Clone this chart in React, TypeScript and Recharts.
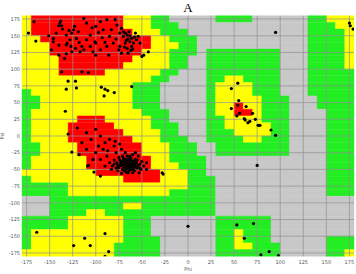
import React from 'react';
import { ScatterChart, Scatter, XAxis, YAxis, ReferenceArea, ReferenceLine } from 'recharts';

const phiTicks = [-175, -150, -125, -100, -75, -50, -25, 0, 25, 50, 75, 100, 125, 150, 175];
const psiTicks = [-175, -150, -125, -100, -75, -50, -25, 0, 25, 50, 75, 100, 125, 150, 175];

// 10-degree cells, rows from psi 180 (top) down to -180, run-length encoded from phi -180
// R = core, Y = allowed, G = generous, W = disallowed
const regionRows = [
  'Y1 R10 Y3 G2 W5 G4 W6 G2 Y3',
  'Y1 R10 Y3 G3 W14 G3 Y2',
  'Y1 R11 Y3 G3 W13 G4 Y1',
  'Y2 R12 Y2 G3 W12 G4 Y1',
  'Y3 R11 Y3 G2 W12 G4 Y1',
  'Y3 R10 Y3 G3 W1 G8 W3 G4 Y1',
  'Y4 R8 Y4 G2 W2 G8 W3 G4 Y1',
  'Y4 R7 Y5 G2 W2 G8 W3 G4 Y1',
  'Y4 R5 Y6 G2 W3 G8 W3 G5',
  'Y14 G2 W4 G2 Y2 G4 W3 G5',
  'Y12 G3 W5 G1 Y4 G3 W3 G5',
  'G1 Y11 G3 W5 G1 Y4 G3 W3 G5',
  'G2 Y10 G3 W5 G1 Y5 G3 W3 G4',
  'G2 Y10 G3 W5 G1 Y2 R1 Y2 G3 W3 G4',
  'G1 Y12 G3 W4 G1 Y2 R2 Y1 G3 W4 G3',
  'G1 Y5 R3 Y5 G2 W4 G2 Y4 G3 W4 G3',
  'G1 Y4 R5 Y4 G3 W3 G2 Y5 G2 W4 G3',
  'G1 Y4 R6 Y4 G2 W3 G3 Y4 G2 W4 G3',
  'G1 Y4 R7 Y3 G3 W2 G4 Y2 G3 W4 G3',
  'G2 Y4 R7 Y3 G3 W2 G8 W4 G3',
  'G2 Y4 R7 Y3 G3 W2 G8 W4 G3',
  'G1 Y6 R7 Y2 G4 W13 G3',
  'G1 Y6 R7 Y3 G3 W13 G3',
  'Y8 R7 Y3 G2 W13 G3',
  'G1 Y10 R4 Y3 G3 W12 G3',
  'G5 Y13 G3 W12 G3',
  'G5 Y11 G5 W12 G3',
  'W3 G18 W15',
  'W3 G8 Y2 G8 W15',
  'W3 G4 Y2 G12 W15',
  'G5 Y6 G3 W7 G6 W9',
  'G5 Y6 G3 W7 G6 W9',
  'G1 Y10 G3 W7 G2 Y1 G3 W9',
  'G1 Y10 G4 W6 G2 Y1 G3 W6 G3',
  'G1 Y9 G5 W6 G2 Y2 G3 W5 G3',
  'Y10 G5 W6 G7 W5 G2 Y1',
];

const regionColors: Record<string, string> = {
  R: '#ff0000',
  Y: '#ffff00',
  G: '#22ee22',
  W: '#c8c8c8',
};

const betaPoints: [number, number][] = [
  [-173, 154], [-165, 142], [-167, 171], [-139, 169], [-140, 165], [-146, 141], [-148, 129],
  [-132, 151], [-128, 144], [-127, 134], [-124, 159], [-121, 146], [-115, 134], [-110, 169],
  [-106, 151], [-101, 141], [-95, 129], [-92, 159], [-88, 174], [-85, 149], [-77, 166],
  [-74, 154], [-70, 149], [-68, 139], [-66, 131], [-65, 124], [-61, 146], [-59, 139],
  [-52, 139], [-50, 119], [-48, 121], [-43, 126], [-138, 172], [-137, 165], [-136, 160],
  [-151, 150], [-146, 146], [-131, 139], [-126, 154], [-117, 126], [-132, 123], [-140, 121],
  [-134, 116], [-110, 144], [-100, 164], [-100, 121], [-95, 171], [-93, 147], [-83, 159],
  [-81, 139], [-79, 174], [-72, 161], [-70, 156], [-68, 154], [-66, 151], [-64, 156],
  [-63, 141], [-61, 134], [-57, 154], [-56, 144], [-54, 149], [-74, 134], [-75, 129],
  [-72, 124], [-113, 129], [-123, 164], [-119, 156], [-106, 134], [-103, 126], [-88, 134],
  [-86, 121], [-113, 176], [-100, 139], [-126, 126], [-132, 136], [-140, 136], [-143, 154],
  [-65, 145], [-63, 150], [-67, 143], [-62, 128], [-60, 130], [-58, 148], [-69, 133],
  [-118, 140], [-122, 131], [-129, 158], [-97, 155], [-104, 162], [-90, 140], [-78, 145],
];

const bridgePoints: [number, number][] = [
  [-137, 96], [-115, 96], [-108, 95], [-130, 82], [-122, 82], [-132, 70], [-121, 72],
  [-94, 73], [-90, 70], [-87, 68], [-91, 60], [-80, 65], [-61, 74], [-133, 37], [-130, 3],
];

const alphaPoints: [number, number][] = [
  [-120, 12], [-110, 5], [-100, 10], [-95, 0], [-105, -5], [-115, -10], [-90, -10], [-85, -5],
  [-92, -20], [-100, -25], [-110, -20], [-118, -28], [-88, -30], [-80, -15], [-78, -25],
  [-75, -32], [-72, -38], [-70, -42], [-68, -35], [-66, -45], [-64, -40], [-62, -38],
  [-60, -44], [-58, -40], [-63, -30], [-60, -28], [-57, -35], [-55, -48], [-52, -42],
  [-50, -38], [-67, -50], [-65, -55], [-62, -50], [-70, -48], [-74, -44], [-77, -40],
  [-80, -36], [-82, -45], [-76, -52], [-72, -56], [-58, -52], [-54, -30], [-48, -45],
  [-45, -50], [-68, -25], [-72, -20], [-85, -40], [-90, -45], [-95, -35], [-65, -35],
  [-61, -42], [-63, -47], [-59, -37], [-66, -39], [-69, -43], [-71, -30], [-56, -45],
  [-64, -33], [-75, -47], [-60, -55], [-53, -55], [-87, -22], [-97, -15], [-103, -35],
  [-79, -8], [-74, -12], [-83, -50], [-57, -25], [-51, -50], [-45, -40], [-126, -24],
  [-109, -45], [-108, -44], [-102, -54], [-95, -60], [-28, -55], [-27, -57],
  [-66, -42], [-64, -44], [-62, -41], [-60, -39], [-67, -37], [-69, -39], [-63, -36],
  [-61, -46], [-58, -43], [-65, -48], [-68, -46], [-70, -36], [-72, -44], [-62, -33],
  [-59, -48], [-56, -40], [-64, -52], [-71, -50], [-73, -40], [-66, -30], [-60, -50],
  [-55, -36], [-67, -54], [-63, -43], [-65, -41], [-61, -37], [-57, -47], [-70, -33],
  [-74, -36], [-76, -44], [-78, -48], [-69, -52], [-54, -44], [-52, -48], [-80, -42],
];

const leftHandedPoints: [number, number][] = [
  [54, 79], [47, 71], [47, 41], [54, 46], [56, 34], [63, 44], [70, 34], [61, 26], [65, 20],
  [67, 22], [73, 25], [78, 16], [76, 16], [90, 9], [95, 1], [53, 30], [62, 24], [55, 53],
];

const otherPoints: [number, number][] = [
  [95, 155], [175, 169], [179, 160], [176, 165], [75, -44], [0, -135], [53, -133], [71, -131],
  [61, -153], [79, -178], [88, -173], [98, -179], [-164, -144], [-112, -153], [-90, -146],
  [-124, -164], [-106, -164], [-86, -173], [-90, -180],
];

type Cell = { x1: number; x2: number; y1: number; y2: number; code: string };

function buildCells(): Cell[] {
  const cells: Cell[] = [];
  regionRows.forEach((row, r) => {
    const top = 180 - 10 * r;
    const bottom = top - 10;
    let c = 0;
    row.split(' ').forEach((tok) => {
      const code = tok[0];
      const n = parseInt(tok.slice(1), 10);
      cells.push({ x1: -180 + 10 * c, x2: -180 + 10 * (c + n), y1: bottom, y2: top, code });
      c += n;
    });
  });
  return cells;
}

const toData = (pts: [number, number][]) => pts.map(([phi, psi]) => ({ phi, psi }));

const Dot = (props: any) => {
  const { cx, cy } = props;
  if (cx == null || cy == null) return null;
  return <circle cx={cx} cy={cy} r={1.6} fill="#000" />;
};

export default function App() {
  const cells = buildCells();
  const allPoints = [
    ...toData(betaPoints),
    ...toData(bridgePoints),
    ...toData(alphaPoints),
    ...toData(leftHandedPoints),
    ...toData(otherPoints),
  ];
  const tickStyle = { fontSize: 5, fill: '#555', fontFamily: 'DejaVu Sans' };
  return (
    <div style={{ position: 'absolute', left: 0, top: 0, width: 356, height: 274, background: '#fff' }}>
      <ScatterChart width={356} height={274} margin={{ top: 15.7, right: 2, bottom: 0, left: 0 }}>
        <XAxis
          type="number"
          dataKey="phi"
          domain={[-180, 180]}
          ticks={phiTicks}
          interval={0}
          allowDataOverflow
          height={17.7}
          tickLine={false}
          axisLine={false}
          tickSize={2}
          tickMargin={2}
          tick={tickStyle}
        />
        <YAxis
          type="number"
          dataKey="psi"
          domain={[-180, 180]}
          ticks={psiTicks}
          interval={0}
          allowDataOverflow
          width={22}
          tickLine={false}
          axisLine={false}
          tickSize={1}
          tickMargin={1}
          tick={tickStyle}
        />
        {cells.map((c, i) => (
          <ReferenceArea
            key={'c' + i}
            x1={c.x1}
            x2={c.x2}
            y1={c.y1}
            y2={c.y2}
            fill={regionColors[c.code]}
            fillOpacity={1}
            stroke={regionColors[c.code]}
            strokeWidth={0.4}
            ifOverflow="visible"
          />
        ))}
        {phiTicks.map((t) => (
          <ReferenceLine key={'vx' + t} x={t} stroke="#8f8f8f" strokeWidth={0.7} />
        ))}
        {psiTicks.map((t) => (
          <ReferenceLine key={'hy' + t} y={t} stroke="#8f8f8f" strokeWidth={0.7} />
        ))}
        <Scatter data={allPoints} isAnimationActive={false} shape={Dot} />
      </ScatterChart>
      <div style={{ position: 'absolute', left: 0, width: 376, top: 1, textAlign: 'center', fontFamily: 'Liberation Serif', fontSize: 13, lineHeight: '13px' }}>A</div>
      <div style={{ position: 'absolute', left: 168, width: 40, top: 266, textAlign: 'center', fontFamily: 'DejaVu Sans', fontSize: 5, lineHeight: '6px', color: '#555' }}>Phi</div>
      <div style={{ position: 'absolute', left: -18, width: 40, top: 133, textAlign: 'center', fontFamily: 'DejaVu Sans', fontSize: 5, lineHeight: '6px', color: '#555', transform: 'rotate(-90deg)' }}>Psi</div>
    </div>
  );
}
